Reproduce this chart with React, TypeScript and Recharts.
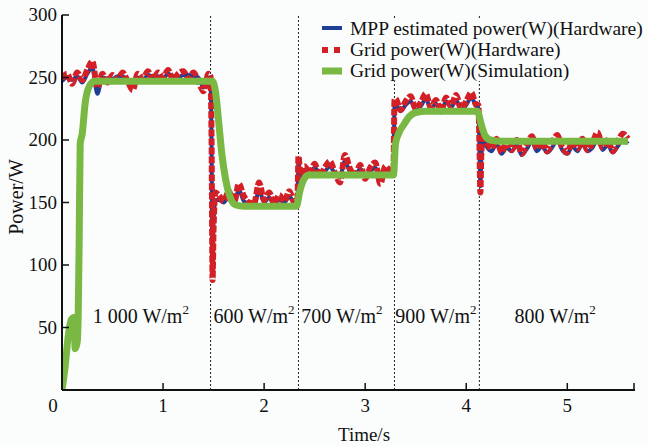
import React from 'react';
import { LineChart, Line, XAxis, YAxis, ReferenceLine, ReferenceDot, Legend } from 'recharts';

const FONT = "'Liberation Serif', 'Times New Roman', Times, serif";

// Hardware sample times (s)
const hwTime = [
  0, 0.05, 0.1, 0.15, 0.2, 0.25, 0.3, 0.35, 0.4, 0.45, 0.5, 0.55, 0.6, 0.65, 0.7, 0.75, 0.8, 0.85, 0.9, 0.95, 1.0, 1.05, 1.1, 1.15, 1.2, 1.25, 1.3, 1.35, 1.4, 1.45,
  1.47, 1.48, 1.49, 1.5, 1.52,
  1.55, 1.6, 1.65, 1.7, 1.75, 1.8, 1.85, 1.9, 1.95, 2.0, 2.05, 2.1, 2.15, 2.2, 2.25, 2.3,
  2.33, 2.34, 2.36,
  2.4, 2.45, 2.5, 2.55, 2.6, 2.65, 2.7, 2.75, 2.8, 2.85, 2.9, 2.95, 3.0, 3.05, 3.1, 3.15, 3.2, 3.25,
  3.28, 3.29,
  3.3, 3.35, 3.4, 3.45, 3.5, 3.55, 3.6, 3.65, 3.7, 3.75, 3.8, 3.85, 3.9, 3.95, 4.0, 4.05, 4.1,
  4.12, 4.13, 4.14, 4.15, 4.17,
  4.2, 4.25, 4.3, 4.35, 4.4, 4.45, 4.5, 4.55, 4.6, 4.65, 4.7, 4.75, 4.8, 4.85, 4.9, 4.95, 5.0, 5.05, 5.1, 5.15, 5.2, 5.25, 5.3, 5.35, 5.4, 5.45, 5.5, 5.55, 5.6,
];

// Grid power (W) hardware
const gridHw = [
  249, 253, 245, 254, 248, 256, 263, 242, 253, 246, 252, 248, 254, 247, 240, 253, 249, 255, 248, 254, 250, 256, 248, 253, 255, 249, 254, 247, 239, 253,
  251, 200, 88, 130, 158,
  156, 151, 159, 149, 165, 155, 150, 149, 166, 152, 158, 149, 156, 151, 159, 150,
  153, 187, 172,
  179, 173, 181, 171, 178, 183, 174, 166, 188, 177, 172, 180, 169, 178, 182, 165, 179, 175,
  176, 232,
  233, 224, 231, 235, 225, 230, 237, 226, 232, 223, 234, 227, 236, 225, 231, 238, 228,
  228, 200, 158, 190, 205,
  199, 193, 201, 190, 198, 192, 200, 189, 197, 203, 193, 199, 191, 198, 204, 194, 190, 199, 193, 201, 192, 198, 206, 194, 200, 191, 199, 205, 201,
];

// MPP estimated power (W) hardware
const mppHw = [
  247, 250, 248, 251, 246, 253, 258, 237, 250, 249, 249, 251, 251, 246, 243, 250, 248, 252, 251, 251, 249, 253, 251, 250, 252, 252, 251, 250, 242, 250,
  250, 195, 95, 135, 152,
  152, 150, 155, 148, 160, 151, 149, 147, 160, 150, 154, 148, 152, 150, 155, 149,
  150, 182, 170,
  176, 172, 178, 174, 175, 179, 173, 171, 183, 174, 171, 177, 172, 175, 178, 169, 176, 174,
  174, 228,
  229, 223, 228, 231, 224, 227, 233, 225, 229, 222, 231, 226, 232, 224, 228, 234, 227,
  226, 198, 163, 186, 200,
  195, 191, 197, 189, 194, 191, 196, 188, 193, 199, 191, 195, 190, 194, 200, 192, 189, 195, 191, 197, 191, 194, 201, 192, 196, 190, 195, 200, 197,
];

// Simulation grid power
const simTime = [0, 0.03, 0.06, 0.09, 0.12, 0.13, 0.15, 0.16, 0.17, 0.18, 0.2, 0.23, 0.27, 0.32, 0.4, 1.49, 1.52, 1.55, 1.58, 1.62, 1.66, 1.72, 1.8, 2.32, 2.35, 2.39, 2.44, 2.55, 3.28, 3.3, 3.33, 3.38, 3.44, 3.5, 3.6, 4.11, 4.15, 4.19, 4.24, 4.35, 5.6];
const simPower = [0, 18, 42, 56, 58, 33, 38, 58, 120, 197, 205, 230, 243, 247, 247, 247, 238, 215, 190, 168, 155, 148, 147, 147, 158, 168, 172, 172, 172, 197, 205, 212, 219, 222, 223, 223, 212, 203, 200, 199, 199];

const stepTimes = [1.47, 2.34, 3.29, 4.13];
const regionText = ['1 000 W/m', '600 W/m', '700 W/m', '900 W/m', '800 W/m'];
const regionX = [0.78, 1.9, 2.77, 3.7, 4.88];
const regionY = 59;

const xTicks = [0, 1, 2, 3, 4, 5, 5.67];
const yTicks = [0, 50, 100, 150, 200, 250, 300];

const seriesNames = ['MPP estimated power(W)(Hardware)', 'Grid power(W)(Hardware)', 'Grid power(W)(Simulation)'];
const BLUE = '#1d3f95';
const RED = '#d31f26';
const GREEN = '#7ab844';

const hwData = hwTime.map((t, i) => ({ t, mpp: mppHw[i], grid: gridHw[i] }));
const simData = simTime.map((t, i) => ({ t, sim: simPower[i] }));

const XTick = (props: any) => {
  const { x, y, payload } = props;
  const v = payload.value;
  const isInt = Number.isInteger(v);
  return (
    <g>
      {v !== 0 && <line x1={x} x2={x} y1={y} y2={y - 7} stroke="#111" strokeWidth={1.5} />}
      {isInt && (
        <text x={v === 0 ? x - 9 : x} y={y + 22} textAnchor="middle" fontFamily={FONT} fontSize={19} fill="#111">
          {v}
        </text>
      )}
    </g>
  );
};

const YTick = (props: any) => {
  const { x, y, payload } = props;
  const v = payload.value;
  if (v === 0) return <g />;
  return (
    <g>
      <line x1={x} x2={x + 7} y1={y} y2={y} stroke="#111" strokeWidth={1.5} />
      <text x={x - 5} y={y + 6} textAnchor="end" fontFamily={FONT} fontSize={19} fill="#111">
        {v}
      </text>
    </g>
  );
};

const RegionLabel = (text: string) => (props: any) => {
  const vb = props.viewBox || {};
  const cx = vb.x + (vb.width || 0) / 2;
  const cy = vb.y + (vb.height || 0) / 2;
  return (
    <text x={cx} y={cy + 7} textAnchor="middle" fontFamily={FONT} fontSize={20} fill="#111">
      {text}
      <tspan fontSize={13} dy={-9}>2</tspan>
    </text>
  );
};

const YLabel = () => (
  <text x={0} y={0} transform="translate(23,197) rotate(-90)" textAnchor="middle" fontFamily={FONT} fontSize={20} fill="#111">
    Power/W
  </text>
);

const XLabel = (props: any) => {
  const vb = props.viewBox || {};
  return (
    <text x={364} y={vb.y + vb.height + 11} textAnchor="middle" fontFamily={FONT} fontSize={19} fill="#111">
      Time/s
    </text>
  );
};

const LegendContent = () => (
  <div style={{ fontFamily: FONT, fontSize: 19.5, color: '#111', lineHeight: '21px', background: '#fbfdfd' }}>
    {seriesNames.map((n, i) => (
      <div key={n} style={{ display: 'flex', alignItems: 'center', whiteSpace: 'nowrap' }}>
        <svg width={26} height={21} style={{ marginRight: 4 }}>
          {i === 0 && <line x1={2} x2={22} y1={10} y2={10} stroke={BLUE} strokeWidth={4} />}
          {i === 1 && <line x1={2} x2={22} y1={11} y2={11} stroke={RED} strokeWidth={6} strokeDasharray="6 6" />}
          {i === 2 && <line x1={2} x2={22} y1={11} y2={11} stroke={GREEN} strokeWidth={7} />}
        </svg>
        <span>{n}</span>
      </div>
    ))}
  </div>
);

export default function App() {
  return (
    <div style={{ position: 'absolute', left: 0, top: 0, width: 648, height: 447, background: '#fbfdfd' }}>
      <LineChart width={648} height={447} margin={{ top: 15, right: 13, bottom: 17, left: 0 }}>
        <XAxis
          type="number"
          dataKey="t"
          domain={[0, 5.67]}
          ticks={xTicks}
          allowDataOverflow
          tick={<XTick />}
          tickLine={false}
          tickSize={0}
          tickMargin={0}
          height={40}
          axisLine={{ stroke: '#111', strokeWidth: 2 }}
          label={<XLabel />}
        />
        <YAxis
          type="number"
          domain={[0, 300]}
          ticks={yTicks}
          tick={<YTick />}
          tickLine={false}
          tickSize={0}
          tickMargin={0}
          width={62}
          axisLine={{ stroke: '#111', strokeWidth: 2 }}
          label={<YLabel />}
        />
        {stepTimes.map((s) => (
          <ReferenceLine key={s} x={s} stroke="#222" strokeWidth={1} strokeDasharray="2 2" />
        ))}
        <Line data={hwData} dataKey="mpp" name={seriesNames[0]} type="monotoneX" stroke={BLUE} strokeWidth={4} dot={false} isAnimationActive={false} />
        <Line data={hwData} dataKey="grid" name={seriesNames[1]} type="monotoneX" stroke={RED} strokeWidth={6} strokeDasharray="7 2" dot={false} isAnimationActive={false} />
        <Line data={simData} dataKey="sim" name={seriesNames[2]} type="monotoneX" stroke={GREEN} strokeWidth={7} dot={false} isAnimationActive={false} />
        {regionX.map((rx, i) => (
          <ReferenceDot key={rx} x={rx} y={regionY} r={1} fill="none" stroke="none" ifOverflow="visible" label={RegionLabel(regionText[i])} />
        ))}
        <Legend
          layout="vertical"
          align="center"
          verticalAlign="middle"
          content={<LegendContent />}
          wrapperStyle={{ position: 'absolute', top: 18, left: 320, width: 330, height: 63 }}
        />
      </LineChart>
    </div>
  );
}
